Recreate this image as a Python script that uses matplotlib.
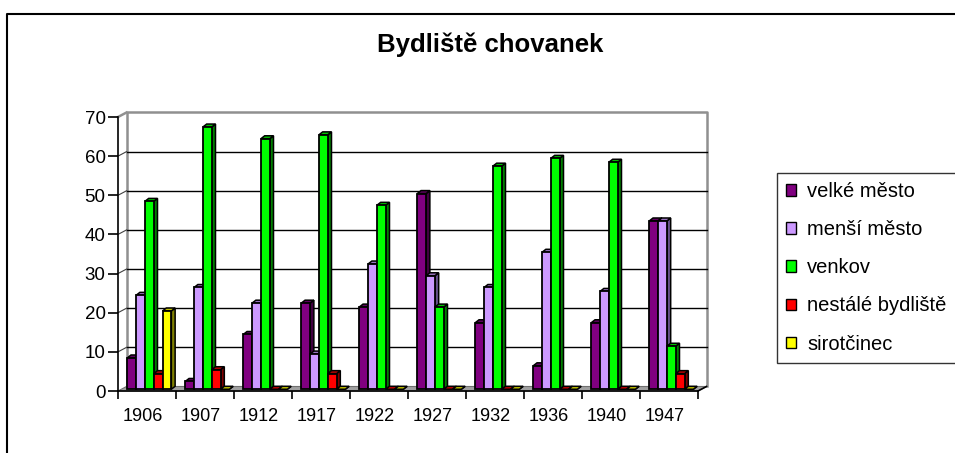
import matplotlib
matplotlib.use("Agg")
import matplotlib.pyplot as plt
import matplotlib.transforms as mtransforms
from matplotlib.patches import Polygon, Patch
from matplotlib.lines import Line2D

plt.rcParams['font.family'] = ['Liberation Sans', 'DejaVu Sans']

years = ["1906", "1907", "1912", "1917", "1922", "1927", "1932", "1936", "1940", "1947"]
series_names = ["velké město", "menší město", "venkov", "nestálé bydliště", "sirotčinec"]
velke_mesto = [8, 2, 14, 22, 21, 50, 17, 6, 17, 43]
mensi_mesto = [24, 26, 22, 9, 32, 29, 26, 35, 25, 43]
venkov = [48, 67, 64, 65, 47, 21, 57, 59, 58, 11]
nestale = [4, 5, 0, 4, 0, 0, 0, 0, 0, 4]
sirotcinec = [20, 0, 0, 0, 0, 0, 0, 0, 0, 0]
series = [velke_mesto, mensi_mesto, venkov, nestale, sirotcinec]

front_colors = ["#800080", "#CC99FF", "#00FF00", "#FF0000", "#FFFF00"]
side_colors = ["#400040", "#66508A", "#008000", "#800000", "#808000"]
top_colors = ["#600060", "#9973BF", "#00C000", "#C00000", "#C0C000"]

W, H = 955, 453
fig = plt.figure(figsize=(W / 100, H / 100), dpi=100)

# axes: front frame x 118..698 px, y0 at 391 px, y70 at 117 px
left, right = 118 / W, 698 / W
bottom, top = (H - 391) / H, (H - 117) / H
ax = fig.add_axes([left, bottom, right - left, top - bottom])
n = len(years)
ax.set_xlim(-0.5, n - 0.5)
ax.set_ylim(0, 70)
ax.patch.set_visible(False)
for s in ["top", "right"]:
    ax.spines[s].set_visible(False)
ax.spines["left"].set_linewidth(1.2)
ax.spines["bottom"].set_linewidth(1.2)

# depth offsets (data units)
Dx, Dy = 8.5 / 58, 1.15
bdx, bdy = 0.065, 0.75

# floor
floor = Polygon([(-0.5, 0), (n - 0.5, 0), (n - 0.5 + Dx, Dy), (-0.5 + Dx, Dy)],
                closed=True, facecolor="#A0A0A0", edgecolor="#707070", lw=0.8,
                clip_on=False, zorder=1)
ax.add_patch(floor)
# back wall outline
ax.plot([-0.5 + Dx, -0.5 + Dx, n - 0.5 + Dx, n - 0.5 + Dx],
        [Dy, 70 + Dy, 70 + Dy, Dy], color="#909090", lw=1.8, clip_on=False, zorder=1)
ax.plot([-0.5, -0.5 + Dx], [70, 70 + Dy], color="#909090", lw=1.8, clip_on=False, zorder=1)
ax.plot([n - 0.5, n - 0.5 + Dx], [0, Dy], color="black", lw=1.2, clip_on=False, zorder=2)
# gridlines on back wall + left wall diagonals
for v in range(10, 70, 10):
    ax.plot([-0.5 + Dx, n - 0.5 + Dx], [v + Dy, v + Dy], color="black", lw=1.0,
            clip_on=False, zorder=1)
    ax.plot([-0.5, -0.5 + Dx], [v, v + Dy], color="#404040", lw=0.8,
            clip_on=False, zorder=1)

# bars
bw = 0.152
gstart = 0.16
base = 0.45
z = 3
for i in range(n):
    for k, vals in enumerate(series):
        h = vals[i]
        x0 = i - 0.5 + gstart + k * bw
        y0 = base
        y1 = base + h
        side = Polygon([(x0 + bw, y0), (x0 + bw + bdx, y0 + bdy), (x0 + bw + bdx, y1 + bdy), (x0 + bw, y1)],
                       closed=True, facecolor=side_colors[k], edgecolor="black", lw=1.1,
                       clip_on=False, zorder=z)
        topf = Polygon([(x0, y1), (x0 + bw, y1), (x0 + bw + bdx, y1 + bdy), (x0 + bdx, y1 + bdy)],
                       closed=True, facecolor=top_colors[k], edgecolor="black", lw=1.1,
                       clip_on=False, zorder=z)
        ax.add_patch(side)
        ax.add_patch(topf)
        if h > 0:
            front = Polygon([(x0, y0), (x0 + bw, y0), (x0 + bw, y1), (x0, y1)],
                            closed=True, facecolor=front_colors[k], edgecolor="black", lw=1.3,
                            clip_on=False, zorder=z)
            ax.add_patch(front)
        z += 1

# ticks
ax.set_xticks(range(n))
ax.set_xticklabels(years, fontsize=13)
ax.set_xticks([i - 0.5 for i in range(n + 1)], minor=True)
ax.tick_params(axis="x", which="major", length=0, pad=12)
ax.tick_params(axis="x", which="minor", length=6, width=1.2, direction="out")
shift = mtransforms.ScaledTranslation(-4 / 100, 0, fig.dpi_scale_trans)
for lbl in ax.get_xticklabels():
    lbl.set_transform(lbl.get_transform() + shift)
ax.set_yticks(range(0, 71, 10))
ax.set_yticklabels([str(v) for v in range(0, 71, 10)], fontsize=13.5)
ax.tick_params(axis="y", length=7, width=1.2, direction="out", pad=2)

# title
fig.text(490 / W, 1 - 45 / H, "Bydliště chovanek", ha="center", va="center",
         fontsize=18.5, fontweight="bold")

# legend
handles = [Patch(facecolor=c, edgecolor="black", lw=1.0) for c in front_colors]
leg = fig.legend(handles, series_names, loc="upper left",
                 bbox_to_anchor=(777 / W, 1 - 173 / H), frameon=True, fontsize=14.5,
                 handlelength=0.5, handleheight=0.5, handletextpad=0.55,
                 labelspacing=0.95, borderpad=0.45, fancybox=False, borderaxespad=0)
leg.get_frame().set_edgecolor("black")
leg.get_frame().set_linewidth(1.0)

# outer border
fig.add_artist(Line2D([7 / W, 7 / W, 1.0], [0, 1 - 14 / H, 1 - 14 / H],
                      transform=fig.transFigure, color="black", lw=1.5))

fig.savefig("out.png", dpi=100)
